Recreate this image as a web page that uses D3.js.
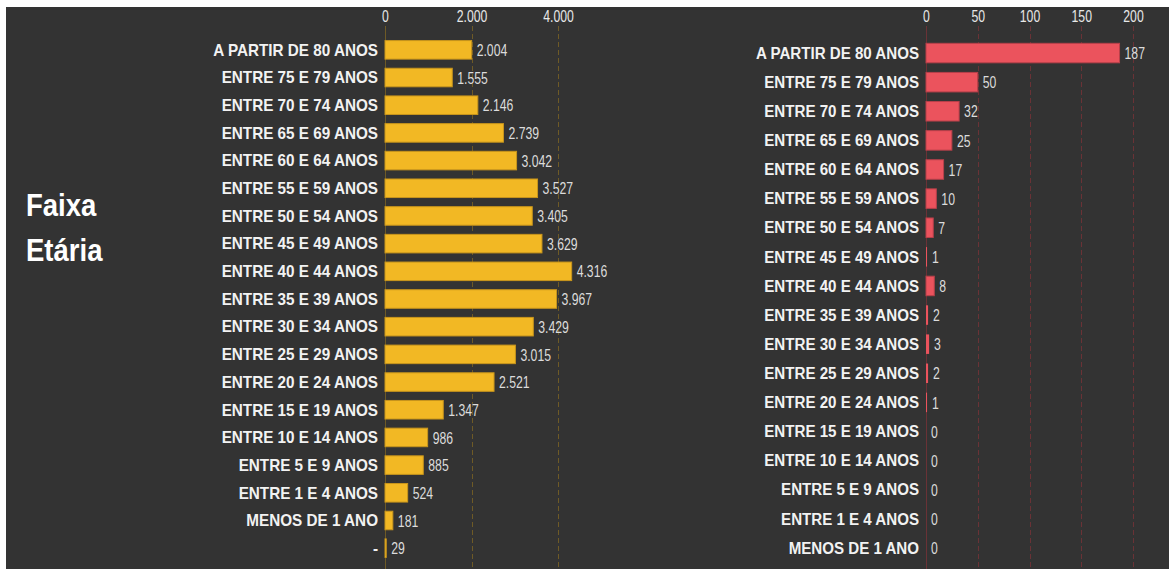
<!DOCTYPE html>
<html><head><meta charset="utf-8">
<script src="https://cdn.jsdelivr.net/npm/d3@7"></script>
<style>
html,body{margin:0;padding:0;background:#fff;}
svg{display:block;}
text{font-family:"Liberation Sans","Arial",sans-serif;}
</style></head>
<body>
<svg id="c" width="1169" height="569"></svg>
<script>
const leftCategories = ["A PARTIR DE 80 ANOS","ENTRE 75 E 79 ANOS","ENTRE 70 E 74 ANOS","ENTRE 65 E 69 ANOS","ENTRE 60 E 64 ANOS","ENTRE 55 E 59 ANOS","ENTRE 50 E 54 ANOS","ENTRE 45 E 49 ANOS","ENTRE 40 E 44 ANOS","ENTRE 35 E 39 ANOS","ENTRE 30 E 34 ANOS","ENTRE 25 E 29 ANOS","ENTRE 20 E 24 ANOS","ENTRE 15 E 19 ANOS","ENTRE 10 E 14 ANOS","ENTRE 5 E 9 ANOS","ENTRE 1 E 4 ANOS","MENOS DE 1 ANO","-"];
const casosValues = [2004,1555,2146,2739,3042,3527,3405,3629,4316,3967,3429,3015,2521,1347,986,885,524,181,29];
const rightCategories = ["A PARTIR DE 80 ANOS","ENTRE 75 E 79 ANOS","ENTRE 70 E 74 ANOS","ENTRE 65 E 69 ANOS","ENTRE 60 E 64 ANOS","ENTRE 55 E 59 ANOS","ENTRE 50 E 54 ANOS","ENTRE 45 E 49 ANOS","ENTRE 40 E 44 ANOS","ENTRE 35 E 39 ANOS","ENTRE 30 E 34 ANOS","ENTRE 25 E 29 ANOS","ENTRE 20 E 24 ANOS","ENTRE 15 E 19 ANOS","ENTRE 10 E 14 ANOS","ENTRE 5 E 9 ANOS","ENTRE 1 E 4 ANOS","MENOS DE 1 ANO"];
const obitosValues = [187,50,32,25,17,10,7,1,8,2,3,2,1,0,0,0,0,0];
const leftTicks = [0,2000,4000];
const rightTicks = [0,50,100,150,200];
const titleLines = ["Faixa","Etária"];

const fmt = v => d3.format(",")(v).replace(/,/g,".");
const svg = d3.select("#c");
svg.append("rect").attr("x",6).attr("y",7).attr("width",1163).attr("height",562).attr("fill","#333333");

// title
svg.append("g").selectAll("text").data(titleLines).join("text")
  .attr("transform",(d,i)=>`translate(26,${216+i*45}) scale(0.86,1)`)
  .attr("fill","#fff").attr("font-size",32).attr("font-weight","bold")
  .text(d=>d);

function panel(cfg){
  const x = d3.scaleLinear().domain(cfg.domain).range(cfg.xRange);
  const y = d3.scaleBand().domain(cfg.cats).range(cfg.yRange).paddingInner(0.33).paddingOuter(0.165);
  const g = svg.append("g");
  // grid
  g.append("g").selectAll("line").data(cfg.ticks).join("line")
    .attr("x1",d=>Math.round(x(d))+0.5).attr("x2",d=>Math.round(x(d))+0.5)
    .attr("y1",26).attr("y2",569)
    .attr("stroke",cfg.gridColor).attr("stroke-width",1)
    .attr("stroke-dasharray",d=>d===0?null:"5,3");
  // axis labels
  const ax = d3.axisTop(x).tickValues(cfg.ticks).tickSize(0).tickFormat(fmt).tickPadding(0);
  const axg = g.append("g").attr("transform","translate(0,22)").call(ax);
  axg.select(".domain").remove();
  axg.selectAll("text").attr("fill","#e8e8e8").attr("font-size",17)
    .attr("transform","scale(0.72,1)").attr("dy",0)
    .style("font-family","'Liberation Sans',Arial,sans-serif");
  // bars
  g.append("g").selectAll("rect").data(cfg.cats).join("rect")
    .attr("x",x(0)).attr("y",d=>y(d))
    .attr("width",(d,i)=>Math.max(0,x(cfg.vals[i])-x(0)))
    .attr("height",y.bandwidth())
    .attr("fill",cfg.color).attr("stroke",cfg.stroke).attr("stroke-width",(d,i)=>cfg.vals[i]>3?1:0);
  // category labels
  g.append("g").selectAll("text").data(cfg.cats).join("text")
    .attr("transform",d=>`translate(${x(0)-7},${y(d)+y.bandwidth()/2}) scale(${cfg.labelScale},1)`)
    .attr("dy","0.36em")
    .attr("text-anchor","end").attr("fill","#f2f2f2").attr("font-size",16).attr("font-weight","bold")
    .text(d=>d);
  // value labels
  g.append("g").selectAll("text").data(cfg.cats).join("text")
    .attr("transform",(d,i)=>`translate(${x(cfg.vals[i])+5},${y(d)+y.bandwidth()/2}) scale(0.72,1)`)
    .attr("dy","0.36em")
    .attr("fill","#dcdcdc").attr("font-size",17)
    .text((d,i)=>fmt(cfg.vals[i]));
}

panel({cats:leftCategories, vals:casosValues, domain:[0,4000], xRange:[385,558], yRange:[36,562],
  ticks:leftTicks, color:"#F2B824", stroke:"#c8951c", gridColor:"#6e5a26", labelScale:0.955});
panel({cats:rightCategories, vals:obitosValues, domain:[0,200], xRange:[926,1133], yRange:[38.5,562.5],
  ticks:rightTicks, color:"#EB535D", stroke:"#b8404a", gridColor:"#6a3236", labelScale:0.945});
</script>
</body></html>
